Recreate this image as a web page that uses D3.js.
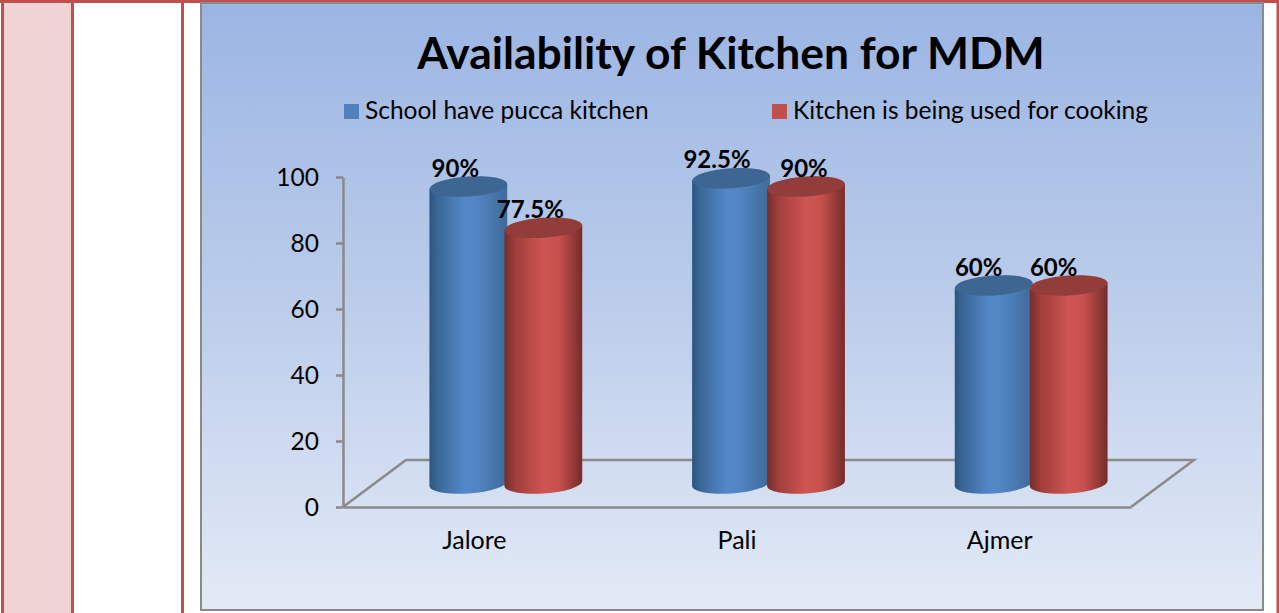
<!DOCTYPE html>
<html>
<head>
<meta charset="utf-8">
<script src="https://cdn.jsdelivr.net/npm/d3@7"></script>
<style>
html, body { margin: 0; padding: 0; background: #fff; overflow: hidden; }
svg { display: block; }
text { font-family: Lato, "Open Sans", sans-serif; fill: #000; }
</style>
</head>
<body>
<svg></svg>
<script>
let width = 1279;
let height = 613;

let categories = ["Jalore", "Pali", "Ajmer"];
let seriesNames = ["School have pucca kitchen", "Kitchen is being used for cooking"];
let puccaKitchen = [90, 92.5, 60];
let usedForCooking = [77.5, 90, 60];
let puccaLabels = ["90%", "92.5%", "60%"];
let cookingLabels = ["77.5%", "90%", "60%"];
let yTicks = [0, 20, 40, 60, 80, 100];

// floor of the fake 3d box, bars stand halfway back on it
let depthX = 63;
let depthY = -47;
let barWidth = 78;
let barStep = 75;
let ry = 10;
let tilt = 4 * Math.PI / 180;

let xScale = d3.scaleBand()
    .domain(categories)
    .range([343, 1131]);

let yScale = d3.scaleLinear()
    .domain([0, 100])
    .range([507, 177]);

let svg = d3.select("svg")
    .attr("width", width)
    .attr("height", height);

let defs = svg.append("defs");

let panelGrad = defs.append("linearGradient")
    .attr("id", "panelGrad")
    .attr("x1", 0).attr("y1", 0).attr("x2", 0).attr("y2", 1);
panelGrad.append("stop").attr("offset", "0%").attr("stop-color", "#9bb5e3");
panelGrad.append("stop").attr("offset", "50%").attr("stop-color", "#bccdeb");
panelGrad.append("stop").attr("offset", "100%").attr("stop-color", "#e3eaf6");

function bodyGradient(id, stops) {
    let g = defs.append("linearGradient")
        .attr("id", id)
        .attr("x1", 0).attr("y1", 0).attr("x2", 1).attr("y2", 0);
    stops.forEach(s => g.append("stop").attr("offset", s[0]).attr("stop-color", s[1]));
}

bodyGradient("blueBody", [["0%", "#2c5680"], ["10%", "#3a6696"], ["45%", "#5388c8"], ["62%", "#5184c2"], ["100%", "#3f6a98"]]);
bodyGradient("redBody", [["0%", "#762d2b"], ["14%", "#a03e3b"], ["50%", "#cf5552"], ["70%", "#c6504d"], ["100%", "#742c2a"]]);

// page table borders behind the chart
svg.append("rect")
    .attr("x", 3).attr("y", 0)
    .attr("width", 69).attr("height", height)
    .attr("fill", "#f0d3d3");

[2.5, 72.5, 182.5, 1278].forEach(x => {
    svg.append("line")
        .attr("x1", x).attr("x2", x)
        .attr("y1", 0).attr("y2", height)
        .attr("stroke", "#c0504d")
        .attr("stroke-width", 3);
});

svg.append("line")
    .attr("x1", 0).attr("x2", width)
    .attr("y1", 1.5).attr("y2", 1.5)
    .attr("stroke", "#c0504d")
    .attr("stroke-width", 3);

svg.append("rect")
    .attr("x", 201).attr("y", 3)
    .attr("width", 1062).attr("height", 607)
    .attr("fill", "url(#panelGrad)")
    .attr("stroke", "#8a8a8a")
    .attr("stroke-width", 2);

svg.append("text")
    .attr("x", 731)
    .attr("y", 69)
    .attr("text-anchor", "middle")
    .style("font-size", "44.4px")
    .style("font-weight", 700)
    .text("Availability of Kitchen for MDM");

// legend
let legendX = [344, 772];
let legendColors = ["#4f81bd", "#c0504d"];

seriesNames.forEach((name, i) => {
    svg.append("rect")
        .attr("x", legendX[i]).attr("y", 104)
        .attr("width", 15).attr("height", 15)
        .attr("fill", legendColors[i]);
    svg.append("text")
        .attr("x", legendX[i] + 21)
        .attr("y", 119)
        .style("font-size", "24.5px")
        .text(name);
});

// floor
let floorLeft = xScale.range()[0];
let floorRight = xScale.range()[1];
let floorY = yScale(0);

svg.append("path")
    .attr("d", d3.line()([
        [floorLeft, floorY],
        [floorLeft + depthX, floorY + depthY],
        [floorRight + depthX, floorY + depthY],
        [floorRight, floorY]
    ]))
    .attr("fill", "none")
    .attr("stroke", "#8a8a8a")
    .attr("stroke-width", 2.5);

// axes
let yAxis = d3.axisLeft(yScale)
    .tickValues(yTicks)
    .tickSize(7)
    .tickSizeOuter(0)
    .tickPadding(17);

let xAxis = d3.axisBottom(xScale)
    .tickSize(0)
    .tickSizeOuter(0)
    .tickPadding(24);

function styleAxis(g, size) {
    g.selectAll(".domain, .tick line")
        .attr("stroke", "#8a8a8a")
        .attr("stroke-width", 2.5);
    g.selectAll("text")
        .style("font-family", "Lato, 'Open Sans', sans-serif")
        .style("font-size", size)
        .attr("fill", "#000");
}

svg.append("g")
    .attr("transform", "translate(" + floorLeft + ",0)")
    .call(yAxis)
    .call(styleAxis, "24.5px")
    .selectAll("text")
    .attr("dy", "0.36em");

svg.append("g")
    .attr("transform", "translate(0," + floorY + ")")
    .call(xAxis)
    .call(styleAxis, "25px");

// cylinders
function cylinder(cx, value, bodyFill, topFill) {
    let rx = barWidth / 2;
    let dx = rx * Math.cos(tilt);
    let dy = rx * Math.sin(tilt);
    let yTop = yScale(value) + depthY / 2;
    let yBase = yScale(0) + depthY / 2;
    let p = d3.path();
    p.moveTo(cx - dx, yTop + dy);
    p.lineTo(cx - dx, yBase + dy);
    let arc = "A" + rx + "," + ry + " -4 0 0 " + (cx + dx) + "," + (yBase - dy);
    let d = p.toString() + arc + "L" + (cx + dx) + "," + (yTop - dy) + "Z";
    svg.append("path")
        .attr("d", d)
        .attr("fill", bodyFill);
    svg.append("ellipse")
        .attr("cx", cx).attr("cy", yTop)
        .attr("rx", rx).attr("ry", ry)
        .attr("transform", "rotate(-4 " + cx + " " + yTop + ")")
        .attr("fill", topFill);
}

function barCentre(category, seriesIndex) {
    let groupCentre = xScale(category) + xScale.bandwidth() / 2 + depthX / 2;
    return groupCentre + (seriesIndex - 0.5) * barStep;
}

categories.forEach((c, i) => {
    cylinder(barCentre(c, 0), puccaKitchen[i], "url(#blueBody)", "#3d6693");
    cylinder(barCentre(c, 1), usedForCooking[i], "url(#redBody)", "#923d3a");
});

// value labels sit up and to the left of each cap
let puccaNudge = [-13, -14, -15];
let cookingNudge = [-13, -2, -15];

function valueLabel(cx, value, label) {
    svg.append("text")
        .attr("x", cx)
        .attr("y", yScale(value) + depthY / 2 - 10)
        .attr("text-anchor", "middle")
        .style("font-size", "24px")
        .style("font-weight", 700)
        .text(label);
}

categories.forEach((c, i) => {
    valueLabel(barCentre(c, 0) + puccaNudge[i], puccaKitchen[i], puccaLabels[i]);
    valueLabel(barCentre(c, 1) + cookingNudge[i], usedForCooking[i], cookingLabels[i]);
});
</script>
</body>
</html>
